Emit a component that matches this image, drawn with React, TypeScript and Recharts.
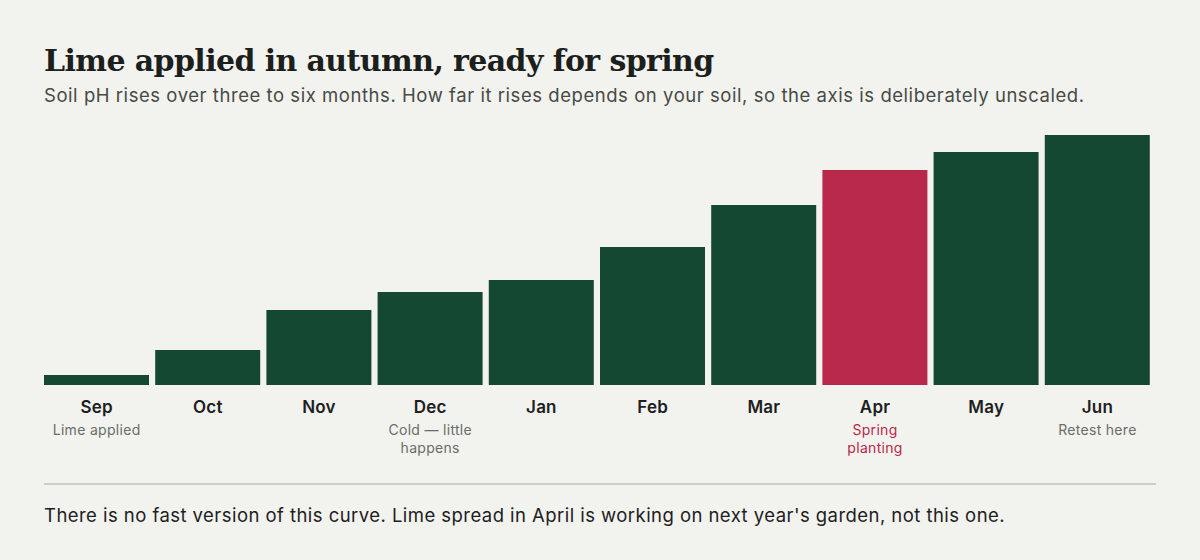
import React from 'react';
import { Bar, BarChart, Cell, XAxis, YAxis } from 'recharts';

// relative rise (axis is deliberately unscaled)
const months = ['Sep', 'Oct', 'Nov', 'Dec', 'Jan', 'Feb', 'Mar', 'Apr', 'May', 'Jun'];
const rise = [4, 14, 30, 37.2, 42, 55.2, 72, 86, 93.2, 100];
const notes: string[][] = [
  ['Lime applied'],
  [],
  [],
  ['Cold — little', 'happens'],
  [],
  [],
  [],
  ['Spring', 'planting'],
  [],
  ['Retest here'],
];
const highlight = 'Apr';

const GREEN = '#154833';
const RED = '#b8284a';
const BG = '#f2f2ee';
const SANS = 'Inter, "Noto Sans", sans-serif';

const data = months.map((month, i) => ({ month, rise: rise[i], note: notes[i] }));

function MonthTick(props: any) {
  const { x, y, payload, index } = props;
  const isHi = payload.value === highlight;
  const lines = data[index]?.note ?? [];
  return (
    <g transform={`translate(${x},${y})`}>
      <text textAnchor="middle" dy={28} fontFamily={SANS} fontSize={17} fontWeight={600} fill="#1d211e" letterSpacing={0.2}>
        {payload.value}
      </text>
      {lines.map((line, i) => (
        <text
          key={i}
          textAnchor="middle"
          dy={50 + i * 17.5}
          fontFamily={SANS}
          fontSize={14}
          letterSpacing={0.3}
          fill={isHi ? RED : '#6a6d69'}
        >
          {line}
        </text>
      ))}
    </g>
  );
}

export default function App() {
  if (typeof document !== 'undefined') document.body.style.margin = '0';
  return (
    <div style={{ position: 'relative', width: 1200, height: 560, background: BG, overflow: 'hidden' }}>
      <div
        style={{
          position: 'absolute',
          left: 44,
          top: 43,
          fontFamily: '"DejaVu Serif", serif',
          fontWeight: 700,
          fontSize: 30,
          color: '#1b201c',
          letterSpacing: -0.6,
          whiteSpace: 'nowrap',
        }}
      >
        Lime applied in autumn, ready for spring
      </div>
      <div
        style={{
          position: 'absolute',
          left: 44,
          top: 84,
          fontFamily: SANS,
          fontSize: 18.5,
          letterSpacing: 0.55,
          color: '#474a47',
          whiteSpace: 'nowrap',
        }}
      >
        Soil pH rises over three to six months. How far it rises depends on your soil, so the axis is deliberately unscaled.
      </div>
      <div style={{ position: 'absolute', left: 0, top: 0 }}>
        <BarChart
          width={1200}
          height={480}
          data={data}
          margin={{ top: 135, right: 47, bottom: 0, left: 41 }}
          barCategoryGap={3}
        >
          <YAxis hide domain={[0, 100]} />
          <XAxis
            dataKey="month"
            height={95}
            axisLine={false}
            tickLine={false}
            tickSize={0}
            tickMargin={0}
            interval={0}
            tick={<MonthTick />}
          />
          <Bar dataKey="rise" isAnimationActive={false}>
            {data.map((d) => (
              <Cell key={d.month} fill={d.month === highlight ? RED : GREEN} />
            ))}
          </Bar>
        </BarChart>
      </div>
      <div style={{ position: 'absolute', left: 44, top: 483, width: 1112, height: 2, background: '#cfcdc4' }} />
      <div
        style={{
          position: 'absolute',
          left: 44,
          top: 504,
          fontFamily: SANS,
          fontSize: 18.5,
          letterSpacing: 0.45,
          color: '#1d211e',
          whiteSpace: 'nowrap',
        }}
      >
        There is no fast version of this curve. Lime spread in April is working on next year's garden, not this one.
      </div>
    </div>
  );
}
